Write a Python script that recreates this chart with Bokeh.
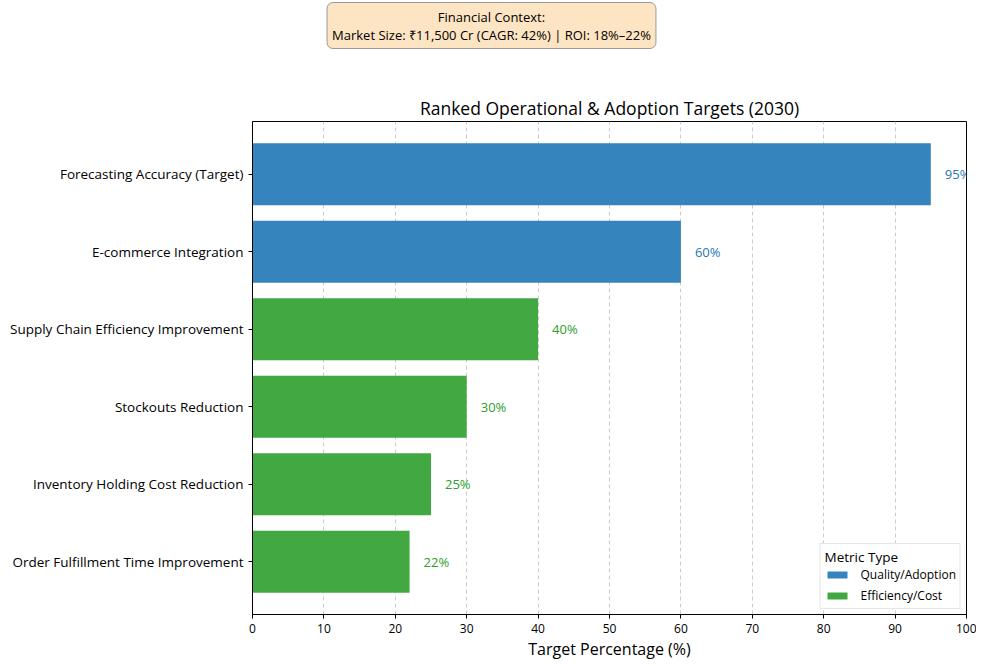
from bokeh.plotting import figure
from bokeh.layouts import column
from bokeh.models import ColumnDataSource, Label, FixedTicker, Range1d, Legend, LegendItem
from bokeh.core.properties import value
from bokeh.embed import file_html
from bokeh.resources import INLINE

FONT = "Open Sans"

categories = ["Forecasting Accuracy (Target)", "E-commerce Integration",
              "Supply Chain Efficiency Improvement", "Stockouts Reduction",
              "Inventory Holding Cost Reduction", "Order Fulfillment Time Improvement"]
values = [95, 60, 40, 30, 25, 22]
metric_types = ["Quality/Adoption", "Quality/Adoption", "Efficiency/Cost",
                "Efficiency/Cost", "Efficiency/Cost", "Efficiency/Cost"]
type_order = ["Quality/Adoption", "Efficiency/Cost"]
bar_colors = {"Quality/Adoption": "#3584be", "Efficiency/Cost": "#42a942"}
text_colors = {"Quality/Adoption": "#1f77b4", "Efficiency/Cost": "#2ca02c"}
x_ticks = list(range(0, 101, 10))
note_text = "Financial Context:\nMarket Size: ₹11,500 Cr (CAGR: 42%) | ROI: 18%–22%"

n = len(categories)
ypos = [n - 1 - i for i in range(n)]

W = 976
NH = 50            # height of the strip holding the context box
H = 662 - NH
BL, BR, BT, BB = 252, 10, 121 - NH, 46

# ---- context box strip (its frame lines up with the chart frame) ----
nf = figure(width=W, height=NH, output_backend="svg", toolbar_location=None,
            x_range=Range1d(BL, W - BR), y_range=Range1d(0, NH),
            x_axis_type=None, y_axis_type=None, min_border=0,
            min_border_left=BL, min_border_right=BR)
nf.outline_line_color = None
nf.grid.grid_line_color = None
note = Label(x=491, y=NH - 25, text=note_text,
             text_font=FONT, text_font_size="13px", text_align="center",
             text_color="black",
             text_baseline="middle", text_line_height=1.0,
             background_fill_color="#fde4c3", background_fill_alpha=1,
             border_line_color="#999999", border_line_width=1,
             padding=5, border_radius=6)
nf.add_layout(note)

# ---- main chart ----
p = figure(width=W, height=H, output_backend="svg", toolbar_location=None,
           x_range=Range1d(0, 100), y_range=Range1d(-0.68, n - 1 + 0.68),
           min_border_left=BL, min_border_right=BR, min_border_top=BT,
           min_border_bottom=BB,
           title="Ranked Operational & Adoption Targets (2030)")

p.title.text_font = FONT
p.title.text_font_size = "17.5px"
p.title.text_font_style = "normal"
p.title.text_color = "black"
p.title.align = "center"
p.title.offset = 0
p.title.standoff = 4

items = []
for t in type_order:
    idx = [i for i in range(n) if metric_types[i] == t]
    src = ColumnDataSource(dict(y=[ypos[i] for i in idx], v=[values[i] for i in idx],
                                lab=[f"{values[i]}%" for i in idx]))
    r = p.hbar(y="y", right="v", left=0, height=0.8, source=src,
               fill_color=bar_colors[t], line_color=None)
    p.text(x="v", y="y", text="lab", source=src, x_offset=14,
           text_font=value(FONT), text_font_size="13px", text_color=text_colors[t],
           text_baseline="middle", text_align="left")
    items.append(LegendItem(label=t, renderers=[r]))

legend = Legend(items=items, location="bottom_right", title="Metric Type",
                title_text_font=FONT, title_text_font_size="13.5px",
                title_text_font_style="normal", title_standoff=0,
                title_text_color="black",
                label_text_font=FONT, label_text_font_size="12px",
                label_text_color="black",
                glyph_width=25, glyph_height=9, label_height=17, spacing=4,
                padding=4, border_line_color="#cccccc", background_fill_alpha=0.9,
                label_standoff=11, margin=5)
p.add_layout(legend)

p.xaxis.ticker = FixedTicker(ticks=x_ticks)
p.yaxis.ticker = FixedTicker(ticks=ypos)
p.yaxis.major_label_overrides = {ypos[i]: categories[i] for i in range(n)}
p.xaxis.axis_label = "Target Percentage (%)"
p.xaxis.axis_label_text_font = FONT
p.xaxis.axis_label_text_font_size = "16px"
p.xaxis.axis_label_text_font_style = "normal"
p.xaxis.axis_label_text_color = "black"
p.xaxis.axis_label_standoff = 2
p.xaxis.major_label_standoff = 5
for ax in (p.xaxis, p.yaxis):
    ax.major_label_text_font = FONT
    ax.major_label_text_color = "black"
    ax.minor_tick_line_color = None
    ax.major_tick_in = 0
    ax.major_tick_out = 4
    ax.axis_line_color = "black"
    ax.major_tick_line_color = "black"
p.xaxis.major_label_text_font_size = "12px"
p.yaxis.major_label_text_font_size = "13.5px"

p.xgrid.grid_line_dash = "4 3"
p.xgrid.grid_line_color = "#cccccc"
p.ygrid.grid_line_color = None
p.outline_line_color = "black"
p.outline_line_alpha = 1

layout = column(nf, p, spacing=0)
open("out.html", "w").write(file_html(layout, INLINE))
